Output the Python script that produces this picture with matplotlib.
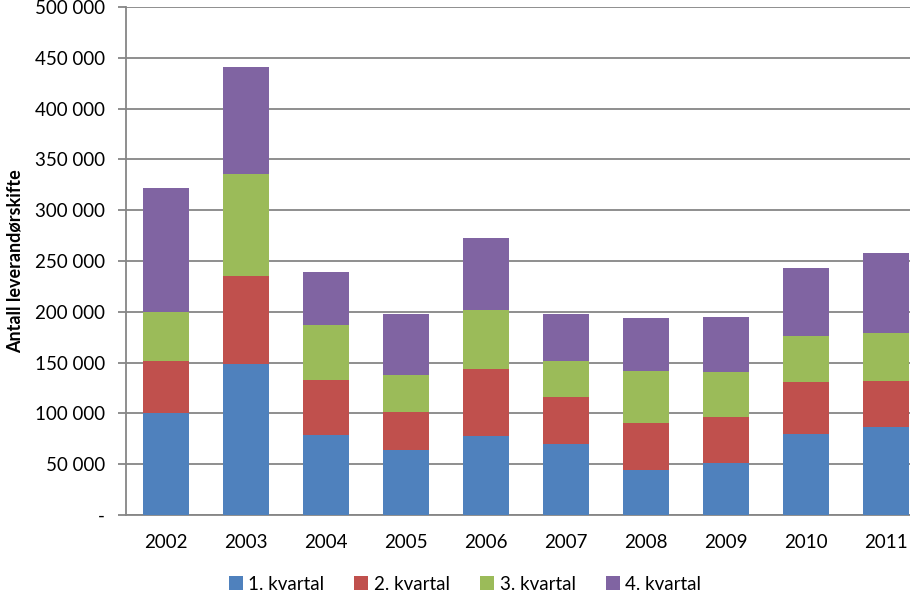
import matplotlib
matplotlib.use("Agg")
import matplotlib.pyplot as plt
from matplotlib.ticker import FuncFormatter, MultipleLocator
import numpy as np

plt.rcParams['font.family'] = ['Lato', 'DejaVu Sans']

years = ['2002', '2003', '2004', '2005', '2006', '2007', '2008', '2009', '2010', '2011']
q1 = [100000, 149000, 78700, 64300, 77800, 69900, 44500, 51200, 80000, 86600]
q2 = [52000, 86300, 54200, 37100, 65900, 46200, 46100, 45300, 50900, 45300]
q3 = [48000, 100400, 54100, 36400, 58100, 35500, 51100, 44200, 45300, 47200]
q4 = [122000, 105600, 52200, 60000, 70800, 46200, 52200, 54200, 66900, 78800]
series = [q1, q2, q3, q4]
labels = ['1. kvartal', '2. kvartal', '3. kvartal', '4. kvartal']
colors = ['#4F81BD', '#C0504D', '#9BBB59', '#8064A2']

W, H = 910, 592
fig = plt.figure(figsize=(W / 100, H / 100), dpi=100)
ax = fig.add_axes([126 / W, (H - 515) / H, 800 / W, 508 / H])

x = np.arange(len(years))
bottom = np.zeros(len(years))
handles = []
for vals, lab, col in zip(series, labels, colors):
    b = ax.bar(x, vals, width=0.575, bottom=bottom, color=col, label=lab, zorder=3)
    handles.append(b)
    bottom += np.array(vals)

ax.set_xlim(-0.5, len(years) - 0.5)
ax.set_ylim(0, 500000)
ax.yaxis.set_major_locator(MultipleLocator(50000))

def fmt(v, pos):
    if v == 0:
        return '-'
    return f"{int(v):,}".replace(',', ' ')

ax.yaxis.set_major_formatter(FuncFormatter(fmt))
ax.grid(axis='y', color='#868686', linewidth=1.3, zorder=0)
ax.set_axisbelow(True)
for s in ['top', 'right']:
    ax.spines[s].set_visible(False)
for s in ['left', 'bottom']:
    ax.spines[s].set_color('#868686')
    ax.spines[s].set_linewidth(1.3)

ax.set_xticks(x)
ax.set_xticklabels(years)
ax.tick_params(axis='x', length=0, pad=14, labelsize=13.5)
ax.tick_params(axis='y', length=6, width=1.3, color='#868686', pad=9, labelsize=13.5)

ax.set_ylabel('Antall leverandørskifte', fontsize=13, fontweight='bold', labelpad=8)

fig.legend(handles=handles, labels=labels, loc='center', bbox_to_anchor=(465 / W, 1 - 584 / H),
           ncol=4, frameon=False, fontsize=13.5, handlelength=0.75, handleheight=0.75,
           handletextpad=0.3, columnspacing=1.6)

fig.savefig('out.png', dpi=100)
